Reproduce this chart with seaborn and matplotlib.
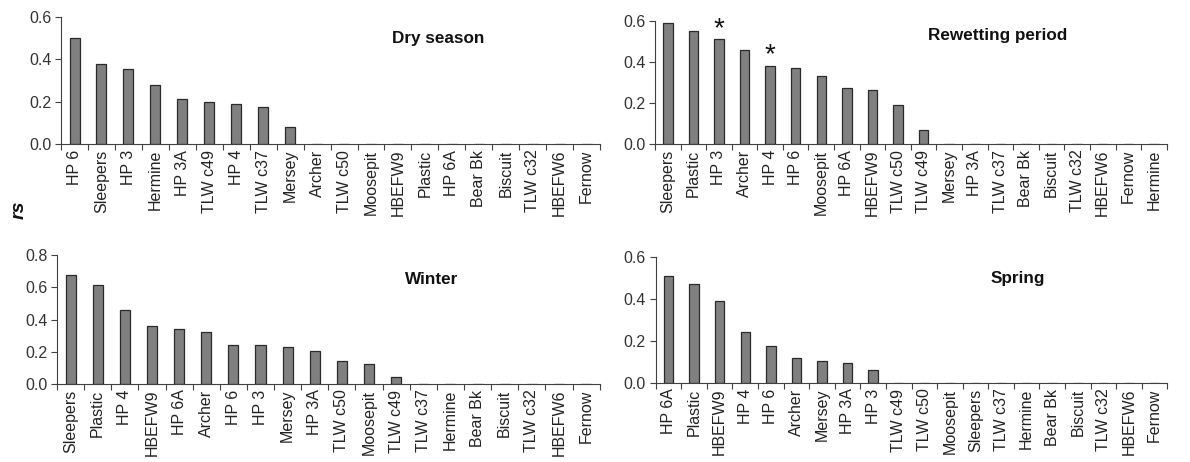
import matplotlib
matplotlib.use("Agg")
import matplotlib.pyplot as plt
import pandas as pd
import seaborn as sns

# site order and rs values per period
dry_sites = ["HP 6", "Sleepers", "HP 3", "Hermine", "HP 3A", "TLW c49", "HP 4", "TLW c37",
             "Mersey", "Archer", "TLW c50", "Moosepit", "HBEFW9", "Plastic", "HP 6A",
             "Bear Bk", "Biscuit", "TLW c32", "HBEFW6", "Fernow"]
dry_rs = [0.50, 0.378, 0.357, 0.281, 0.213, 0.199, 0.19, 0.175, 0.08,
          0, 0, 0, 0, 0, 0, 0, 0, 0, 0, 0]

rewet_sites = ["Sleepers", "Plastic", "HP 3", "Archer", "HP 4", "HP 6", "Moosepit", "HP 6A",
               "HBEFW9", "TLW c50", "TLW c49", "Mersey", "HP 3A", "TLW c37", "Bear Bk",
               "Biscuit", "TLW c32", "HBEFW6", "Fernow", "Hermine"]
rewet_rs = [0.59, 0.551, 0.511, 0.462, 0.382, 0.373, 0.332, 0.274, 0.264, 0.193, 0.071,
            0, 0, 0, 0, 0, 0, 0, 0, 0]
rewet_signif = ["HP 3", "HP 4"]

winter_sites = ["Sleepers", "Plastic", "HP 4", "HBEFW9", "HP 6A", "Archer", "HP 6", "HP 3",
                "Mersey", "HP 3A", "TLW c50", "Moosepit", "TLW c49", "TLW c37", "Hermine",
                "Bear Bk", "Biscuit", "TLW c32", "HBEFW6", "Fernow"]
winter_rs = [0.678, 0.614, 0.457, 0.362, 0.343, 0.324, 0.244, 0.244, 0.231, 0.205,
             0.143, 0.122, 0.043, 0, 0, 0, 0, 0, 0, 0]

spring_sites = ["HP 6A", "Plastic", "HBEFW9", "HP 4", "HP 6", "Archer", "Mersey", "HP 3A",
                "HP 3", "TLW c49", "TLW c50", "Moosepit", "Sleepers", "TLW c37", "Hermine",
                "Bear Bk", "Biscuit", "TLW c32", "HBEFW6", "Fernow"]
spring_rs = [0.509, 0.471, 0.39, 0.245, 0.177, 0.12, 0.104, 0.096, 0.062,
             0, 0, 0, 0, 0, 0, 0, 0, 0, 0, 0]

sns.set_style("ticks")
plt.rcParams["font.family"] = ["Liberation Sans", "DejaVu Sans"]

fig = plt.figure(figsize=(11.9, 4.62), dpi=100)

panels = [
    # sites, values, title, ymax, axes rect, title pos, starred
    (dry_sites, dry_rs, "Dry season", 0.6, [0.0513, 0.688, 0.453, 0.275], (0.70, 0.835), []),
    (rewet_sites, rewet_rs, "Rewetting period", 0.6, [0.5504, 0.688, 0.430, 0.266], (0.67, 0.886), rewet_signif),
    (winter_sites, winter_rs, "Winter", 0.8, [0.0479, 0.1688, 0.456, 0.279], (0.69, 0.81), []),
    (spring_sites, spring_rs, "Spring", 0.6, [0.551, 0.171, 0.430, 0.2727], (0.707, 0.83), []),
]

for sites, vals, title, ymax, rect, tpos, starred in panels:
    ax = fig.add_axes(rect)
    df = pd.DataFrame({"site": sites, "rs": vals})
    sns.barplot(data=df, x="site", y="rs", order=sites, color="#808080",
                saturation=1, width=0.37, edgecolor="#2a2a2a", linewidth=0.9, ax=ax)
    ax.set_xlim(-0.5, len(sites) - 0.5)
    ax.set_ylim(0, ymax)
    ax.set_yticks([i / 10 for i in range(0, int(round(ymax * 10)) + 1, 2)])
    ax.yaxis.set_major_formatter(matplotlib.ticker.FormatStrFormatter("%.1f"))
    ax.set_xticks(range(len(sites)))
    ax.set_xticklabels(sites, rotation=90, fontsize=11.5)
    ax.set_xticks([i - 0.5 for i in range(len(sites) + 1)], minor=True)
    ax.tick_params(axis="x", which="major", length=0, pad=4)
    ax.tick_params(axis="x", which="minor", length=4, width=0.8, direction="out", color="#404040")
    ax.tick_params(axis="y", length=4, width=0.8, color="#404040", labelsize=11.5,
                   labelcolor="#333333", pad=3)
    for lab in ax.get_xticklabels():
        lab.set_color("#222222")
    for s in ["top", "right"]:
        ax.spines[s].set_visible(False)
    for s in ["left", "bottom"]:
        ax.spines[s].set_color("#404040")
        ax.spines[s].set_linewidth(0.8)
    ax.set_xlabel("")
    ax.set_ylabel("")
    ax.text(tpos[0], tpos[1], title, transform=ax.transAxes, ha="center", va="center",
            fontsize=12.3, fontweight="bold", color="#111111")
    for name in starred:
        i = sites.index(name)
        ax.annotate("*", xy=(i, vals[i]), xytext=(0, -2), textcoords="offset points",
                    ha="center", va="bottom", fontsize=20, color="#111111",
                    annotation_clip=False)

fig.text(0.016, 0.545, "rs", rotation=90, ha="center", va="center",
         fontsize=14, fontweight="bold", fontstyle="italic", color="#111111")

fig.savefig("out.png", dpi=100)
